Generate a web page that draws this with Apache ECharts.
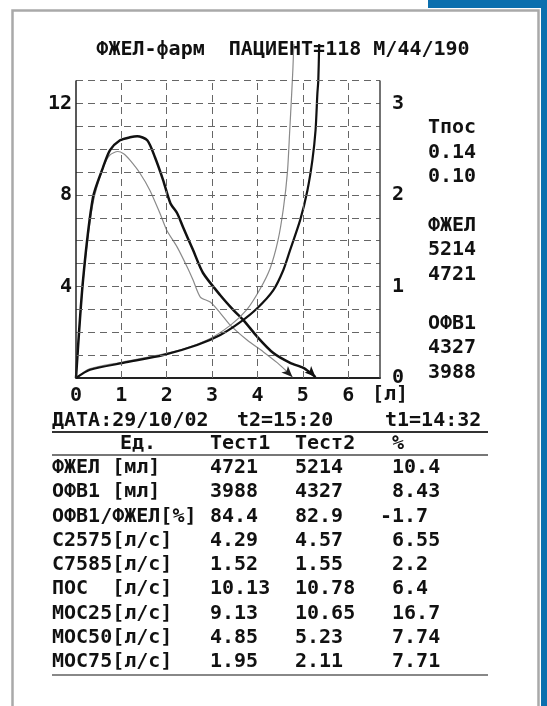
<!DOCTYPE html>
<html><head><meta charset="utf-8">
<script src="https://cdn.jsdelivr.net/npm/echarts@6/dist/echarts.min.js"></script>
<style>html,body{margin:0;padding:0;background:#fff;}#c{width:547px;height:706px;}</style>
</head><body><div id="c"></div>
<script>
// ---- data ----
const titleText = 'ФЖЕЛ-фарм  ПАЦИЕНТ=118 М/44/190';
const volumeTicks = [0, 1, 2, 3, 4, 5, 6];
const flowTicks = [4, 8, 12];
const rightTicks = [0, 1, 2, 3];
// flow-volume loops: [volume l, flow l/s]
const flowVolumeTest1 = [[0,0],[0.15,4.1],[0.37,7.6],[0.6,9.2],[0.75,9.75],[0.92,9.9],[1.05,9.8],[1.19,9.52],[1.41,8.95],[1.63,8.2],[1.85,7.2],[2.0,6.46],[2.23,5.72],[2.45,4.85],[2.58,4.28],[2.74,3.54],[2.96,3.32],[3.18,2.84],[3.4,2.31],[3.77,1.66],[4.13,1.14],[4.44,0.66],[4.66,0.26],[4.77,0.04]];
const flowVolumeTest2 = [[0,0],[0.155,4.28],[0.375,7.9],[0.596,9.21],[0.75,9.96],[0.97,10.39],[1.19,10.52],[1.35,10.57],[1.57,10.39],[1.74,9.65],[1.92,8.65],[2.08,7.64],[2.23,7.2],[2.36,6.59],[2.58,5.59],[2.8,4.59],[3.18,3.62],[3.47,2.97],[3.69,2.53],[4.0,1.79],[4.35,1.09],[4.72,0.66],[5.01,0.44],[5.17,0.22],[5.28,0.04]];
// volume-time curves (right axis)
const volumeTimeTest1 = [[0,0],[0.3,0.1],[1.04,0.175],[2.14,0.285],[2.89,0.415],[3.4,0.575],[3.77,0.75],[4.06,0.975],[4.28,1.2],[4.45,1.5],[4.57,1.85],[4.66,2.25],[4.71,2.7],[4.75,3.075],[4.78,3.375],[4.8,3.65]];
const volumeTimeTest2 = [[0,0],[0.31,0.09],[1.04,0.165],[1.92,0.25],[2.67,0.36],[3.18,0.47],[3.62,0.61],[4.0,0.765],[4.35,0.96],[4.57,1.18],[4.72,1.4],[4.94,1.725],[5.1,2.05],[5.21,2.38],[5.28,2.71],[5.32,3.11],[5.34,3.25],[5.36,3.65]];
const sideLabels = ['Тпос','0.14','0.10','','ФЖЕЛ','5214','4721','','ОФВ1','4327','3988'];
const dateParts = ['ДАТА:29/10/02', 't2=15:20', 't1=14:32'];
const headerCells = ['Ед.', 'Тест1', 'Тест2', '%'];
const rowLabels = ['ФЖЕЛ [мл]','ОФВ1 [мл]','ОФВ1/ФЖЕЛ[%]','С2575[л/с]','С7585[л/с]','ПОС  [л/с]','МОС25[л/с]','МОС50[л/с]','МОС75[л/с]'];
const test1Values = ['4721','3988','84.4','4.29','1.52','10.13','9.13','4.85','1.95'];
const test2Values = ['5214','4327','82.9','4.57','1.55','10.78','10.65','5.23','2.11'];
const pctValues = [' 10.4',' 8.43','-1.7',' 6.55',' 2.2',' 6.4',' 16.7',' 7.74',' 7.71'];

// ---- chart ----
const FONT = '"DejaVu Sans Mono", monospace';
const chart = echarts.init(document.getElementById('c'), null, {renderer: 'canvas'});
const XMAX = 6.7, YTOP = 13, YMAX = 14.6;
const dashStyle = {color: '#666', type: [7, 5], width: 1};
const gridLines = [];
for (let k = 1; k <= YTOP; k++) gridLines.push([{coord: [0, k], lineStyle: dashStyle}, {coord: [XMAX, k]}]);
volumeTicks.filter(v => v > 0).forEach(v => gridLines.push([{coord: [v, 0], lineStyle: dashStyle}, {coord: [v, YTOP]}]));
gridLines.push([{coord: [0, 0], lineStyle: {color: '#222', type: 'solid', width: 1.5}}, {coord: [0, YTOP]}]);
gridLines.push([{coord: [XMAX, 0], lineStyle: {color: '#444', type: 'solid', width: 1.5}}, {coord: [XMAX, YTOP]}]);

function withEnd(arr, rot) {
  return arr.map((p, i) => i === arr.length - 1 ? {value: p, symbol: 'arrow', symbolSize: [7, 11], symbolRotate: rot} : p);
}

const graphics = [
  {type: 'rect', shape: {x: 428, y: 0, width: 119, height: 8}, style: {fill: '#0b6fae'}},
  {type: 'rect', shape: {x: 541, y: 0, width: 6, height: 706}, style: {fill: '#0b6fae'}},
  {type: 'rect', shape: {x: 12.5, y: 10.5, width: 526, height: 720}, style: {fill: 'none', stroke: '#a9a9a9', lineWidth: 2.5}},
  {type: 'text', style: {text: titleText, x: 283, y: 50, align: 'center', verticalAlign: 'middle', fontFamily: FONT, fontWeight: 'bold', fontSize: 20, fill: '#111'}},
  {type: 'text', style: {text: '[л]', x: 390, y: 395, align: 'center', verticalAlign: 'middle', fontFamily: FONT, fontWeight: 'bold', fontSize: 20, fill: '#111'}}
];
sideLabels.forEach((t, i) => { if (t) graphics.push({type: 'text', style: {text: t, x: 428, y: 128 + 24.45 * i, align: 'left', verticalAlign: 'middle', fontFamily: FONT, fontWeight: 'bold', fontSize: 20, fill: '#111'}}); });
const dateX = [52, 237, 385];
dateParts.forEach((t, i) => graphics.push({type: 'text', style: {text: t, x: dateX[i], y: 421, align: 'left', verticalAlign: 'middle', fontFamily: FONT, fontWeight: 'bold', fontSize: 20, fill: '#111'}}));
const headX = [120, 210, 295, 392];
headerCells.forEach((t, i) => graphics.push({type: 'text', style: {text: t, x: headX[i], y: 444, align: 'left', verticalAlign: 'middle', fontFamily: FONT, fontWeight: 'bold', fontSize: 20, fill: '#111'}}));
const colX = [52, 210, 295, 380];
rowLabels.forEach((lab, r) => {
  const y = 468 + 24.25 * r;
  [lab, test1Values[r], test2Values[r], pctValues[r]].forEach((t, c) => graphics.push({type: 'text', style: {text: t, x: colX[c], y: y, align: 'left', verticalAlign: 'middle', fontFamily: FONT, fontWeight: 'bold', fontSize: 20, fill: '#111'}}));
});
[[432, '#333'], [455, '#777'], [675, '#888']].forEach(([y, col]) => graphics.push({type: 'line', shape: {x1: 52, y1: y, x2: 488, y2: y}, style: {stroke: col, lineWidth: 2}}));

chart.setOption({
  animation: false,
  backgroundColor: '#fff',
  grid: {left: 76, right: 167, top: 44, bottom: 328, containLabel: false},
  xAxis: {
    type: 'value', min: 0, max: XMAX, interval: 1,
    axisLine: {show: true, lineStyle: {color: '#222', width: 2}},
    axisTick: {show: false}, splitLine: {show: false},
    axisLabel: {margin: 8, fontFamily: FONT, fontWeight: 'bold', fontSize: 20, color: '#111',
      formatter: v => volumeTicks.includes(v) ? String(v) : ''}
  },
  yAxis: [
    {type: 'value', min: 0, max: YMAX, interval: 4, position: 'left',
      axisLine: {show: false}, axisTick: {show: false}, splitLine: {show: false},
      axisLabel: {margin: 4, fontFamily: FONT, fontWeight: 'bold', fontSize: 20, color: '#111',
        formatter: v => flowTicks.includes(v) ? String(v) : ''}},
    {type: 'value', min: 0, max: YMAX / 4, interval: 1, position: 'right',
      axisLine: {show: false}, axisTick: {show: false}, splitLine: {show: false},
      axisLabel: {margin: 12, fontFamily: FONT, fontWeight: 'bold', fontSize: 20, color: '#111',
        formatter: v => rightTicks.includes(v) ? String(v) : ''}}
  ],
  series: [
    {type: 'line', name: 'grid', data: [], silent: true,
      markLine: {silent: true, symbol: 'none', label: {show: false}, animation: false, data: gridLines}},
    {type: 'line', name: 'Тест1 поток-объём', yAxisIndex: 0, data: withEnd(flowVolumeTest1, -135), smooth: 0.25,
      symbol: 'none', showSymbol: true, lineStyle: {color: '#8a8a8a', width: 1.2}, itemStyle: {color: '#222'}},
    {type: 'line', name: 'Тест2 поток-объём', yAxisIndex: 0, data: withEnd(flowVolumeTest2, -135), smooth: 0.25,
      symbol: 'none', showSymbol: true, lineStyle: {color: '#111', width: 2.5}, itemStyle: {color: '#111'}},
    {type: 'line', name: 'Тест1 объём-время', yAxisIndex: 1, data: volumeTimeTest1, smooth: 0.25,
      symbol: 'none', lineStyle: {color: '#8a8a8a', width: 1.2}},
    {type: 'line', name: 'Тест2 объём-время', yAxisIndex: 1, data: volumeTimeTest2, smooth: 0.25,
      symbol: 'none', lineStyle: {color: '#111', width: 2.2}}
  ],
  graphic: graphics
});
</script></body></html>
